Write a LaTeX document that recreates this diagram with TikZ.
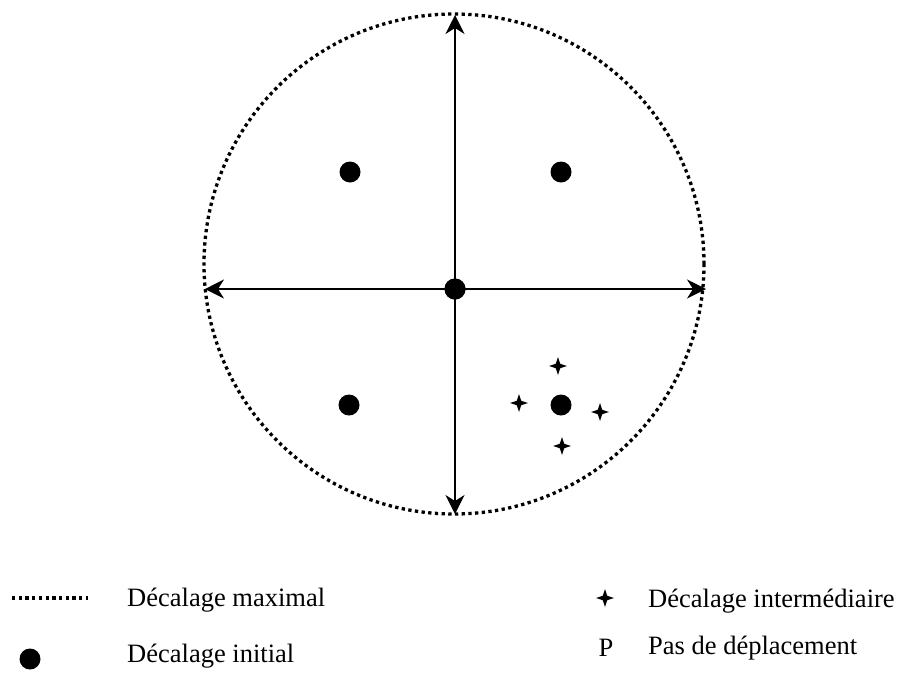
\documentclass[tikz,border=0pt]{standalone}
\usepackage{fontspec}
\setmainfont{Liberation Serif}
\usetikzlibrary{arrows.meta}
\begin{document}
\begin{tikzpicture}[x=1pt,y=-1pt,
  dot/.style={circle,fill=black,inner sep=0pt,minimum size=21pt},
  maxc/.style={line width=3.3pt,dash pattern=on 3.3pt off 3.4pt},
  axis/.style={line width=1.5pt,-{Stealth[length=19pt,width=19pt,inset=6pt]}},
  lbl/.style={anchor=base west,inner sep=0pt,font=\fontsize{26.5}{30}\selectfont},
  spark/.pic={\fill (0,-9) -- (2.2,-2.2) -- (9,0) -- (2.2,2.2) -- (0,9) -- (-2.2,2.2) -- (-9,0) -- (-2.2,-2.2) -- cycle;}]
\useasboundingbox (0,0) rectangle (901,675);
% dotted circle
\draw[maxc] (454,264) circle (250pt);
% axis ends
\coordinate (top) at (455,15);
\coordinate (bot) at (455,514);
\coordinate (lft) at (205,289);
\coordinate (rgt) at (706,289);
\node[dot] (c) at (455,289) {};
\draw[axis] (c.center) -- (top);
\draw[axis] (c.center) -- (bot);
\draw[axis] (c.center) -- (lft);
\draw[axis] (c.center) -- (rgt);
\node[dot] (c) at (455,289) {};
% initial offsets
\node[dot] (d1) at (350,172) {};
\node[dot] (d2) at (561,172) {};
\node[dot] (d3) at (349,405) {};
\node[dot] (d4) at (561,405) {};
% intermediate offsets
\pic at (558,366) {spark};
\pic at (519,403) {spark};
\pic at (600,412) {spark};
\pic at (562,446) {spark};
% legend
\coordinate (l1a) at (12,598);
\coordinate (l1b) at (88,598);
\draw[maxc] (l1a) -- (l1b);
\node[lbl] (t1) at (127,606) {Décalage maximal};
\node[dot] (ld) at (30,659) {};
\node[lbl] (t2) at (127,662) {Décalage initial};
\pic at (605,598) {spark};
\node[lbl] (t3) at (648,607) {Décalage intermédiaire};
\node[anchor=base,inner sep=0pt,font=\fontsize{26.5}{30}\selectfont] (p) at (606,656) {P};
\node[lbl] (t4) at (648,654) {Pas de déplacement};
\end{tikzpicture}
\end{document}
